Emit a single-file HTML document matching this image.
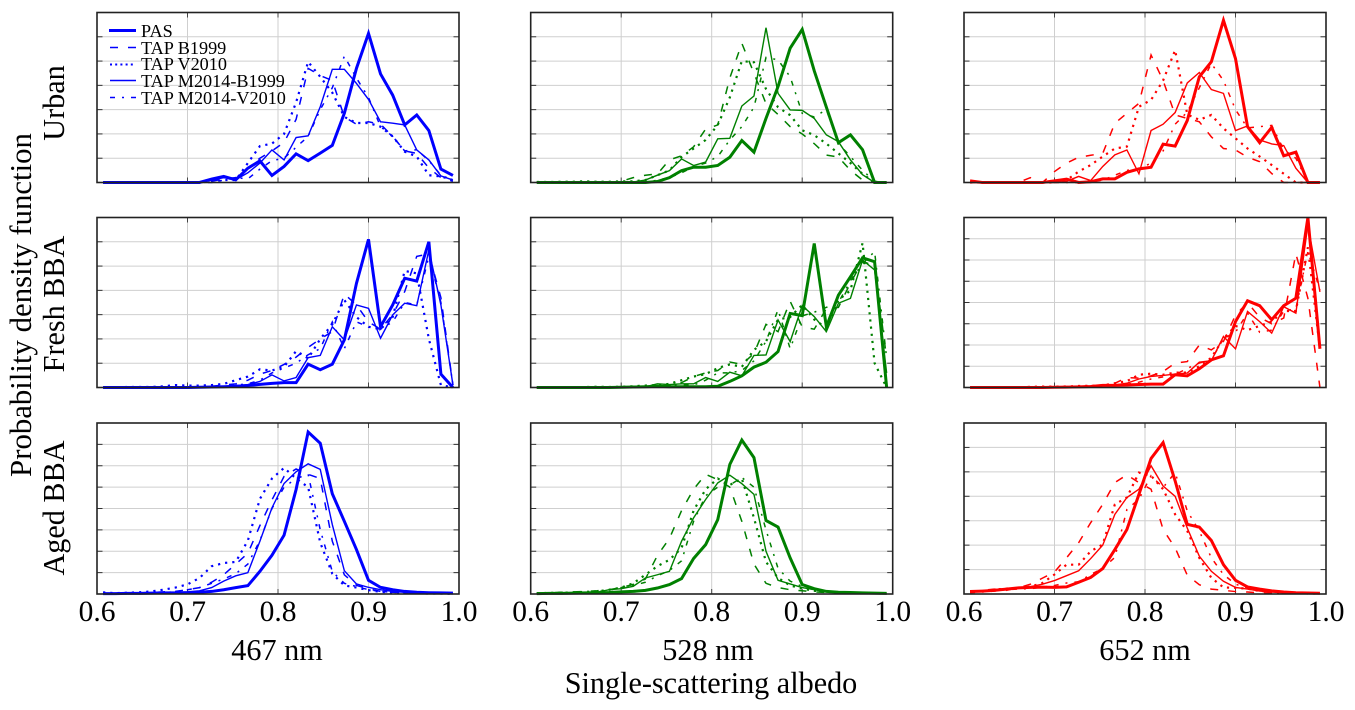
<!DOCTYPE html>
<html lang="en">
<head>
<meta charset="utf-8">
<title>Single-scattering albedo probability density functions</title>
<style>
html,body{margin:0;padding:0;background:#fff;width:1355px;height:710px;overflow:hidden}
svg{display:block}
text{font-family:"Liberation Serif",serif;fill:#000}
</style>
</head>
<body>
<svg id="chart" xmlns="http://www.w3.org/2000/svg" width="1355" height="710" viewBox="0 0 1355 710">
<rect x="0" y="0" width="1355" height="710" fill="#fff"/>
<g id="panels"></g>
<g font-size="18.2">
<g><line x1="109" x2="136" y1="30.5" y2="30.5" stroke="#0000ff" stroke-width="3"/><text x="141" y="37">PAS</text></g>
<g><line x1="110" x2="136" y1="47.5" y2="47.5" stroke="#0000ff" stroke-width="1.5" stroke-dasharray="8 10"/><text x="141" y="54">TAP B1999</text></g>
<g><line x1="110" x2="136" y1="64.5" y2="64.5" stroke="#0000ff" stroke-width="2" stroke-dasharray="2 3.2"/><text x="141" y="70">TAP V2010</text></g>
<g><line x1="110" x2="136" y1="80.5" y2="80.5" stroke="#0000ff" stroke-width="1.5"/><text x="141" y="87">TAP M2014-B1999</text></g>
<g><line x1="110" x2="136" y1="97.5" y2="97.5" stroke="#0000ff" stroke-width="1.5" stroke-dasharray="5 7 2 7"/><text x="141" y="104">TAP M2014-V2010</text></g>
</g>
<g font-size="30.2">
<text transform="translate(64,103) rotate(-90)" text-anchor="middle">Urban</text>
<text transform="translate(64,304) rotate(-90)" text-anchor="middle">Fresh BBA</text>
<text transform="translate(64,508) rotate(-90)" text-anchor="middle">Aged BBA</text>
<text transform="translate(31,305) rotate(-90)" text-anchor="middle" font-size="30.8">Probability density function</text>
<text x="277" y="660" text-anchor="middle">467 nm</text>
<text x="708" y="660" text-anchor="middle">528 nm</text>
<text x="1145" y="660" text-anchor="middle">652 nm</text>
<text x="711" y="693" text-anchor="middle">Single-scattering albedo</text>
</g>
</svg>
<script>
// Albedo bin centres shared by all series
const albedoBins = [0.6067,0.62,0.6333,0.6467,0.66,0.6733,0.6867,0.7,0.7133,0.7267,0.74,0.7533,0.7667,0.78,0.7933,0.8067,0.82,0.8333,0.8467,0.86,0.8733,0.8867,0.9,0.9133,0.9267,0.94,0.9533,0.9667,0.98,0.9933];
const xTickLabels = ["0.6","0.7","0.8","0.9","1.0"];
const xTickValues = [0.6,0.7,0.8,0.9,1.0];
const aerosolRows = ["urban","fresh-bba","aged-bba"];
const wavelengths = ["467-nm","528-nm","652-nm"];

// Urban, 467 nm
const urban467Pas = [0,0,0,0,0,0,0,0,0,.14,.25,.11,.59,.89,.29,.66,1.18,.9,1.21,1.53,2.85,4.7,6.14,4.47,3.6,2.37,2.78,2.14,.55,.29];
const urban467B1999 = [0,0,0,0,0,0,0,0,0,.05,.15,.2,.6,1,1.3,1.65,2.6,4.7,4.4,4.2,2.7,2.4,2.5,2.4,1.9,1.3,1.2,.6,.2,.05];
const urban467V2010 = [0,0,0,0,0,0,0,0,0,.05,.1,.1,.8,1.5,1.6,2,3.3,4.97,4.35,3.7,2.7,2.45,2.45,2.3,1.9,1.27,1.07,.3,.25,.1];
const urban467M2014B = [0,0,0,0,0,0,0,0,0,.1,.2,.12,.4,.8,1.34,.93,1.85,1.92,3.12,4.66,4.66,4.08,3.42,2.5,2.44,2.37,1.34,.93,.27,.1];
const urban467M2014V = [0,0,0,0,0,0,0,0,0,0,.1,.2,.15,.55,.9,1,1.45,1.9,3,3.9,5.2,4.3,3.5,2.3,1.9,1.3,1.35,.9,.3,.1];
// Urban, 528 nm
const urban528Pas = [0,0,0,0,0,0,0,0,0,0,.04,.2,.49,.63,.63,.7,1.04,1.73,1.25,2.64,3.95,5.53,6.3,4.6,3.1,1.64,1.96,1.35,0,0];
const urban528B1999 = [0,0,0,0,0,0,0,.05,.2,.3,.35,.93,1.1,1.47,2.2,2.37,4.3,5.73,4.5,3.25,2.8,2.3,2,1.6,1.13,1.05,.5,.1,0,0];
const urban528V2010 = [.02,.02,.03,.03,.05,.03,.03,.05,.05,.1,.3,.5,1.05,1.4,1.75,2.37,3.5,5,4.95,3.85,3.1,2.77,2.15,1.95,1.6,1.2,.8,.35,0,0];
const urban528M2014B = [0,0,0,0,0,0,0,0,.02,.1,.3,.49,.97,.7,.84,1.8,1.82,3.15,3.56,6.37,3.67,2.99,2.97,2.64,1.96,1.68,.93,.32,0,0];
const urban528M2014V = [0,0,0,0,0,0,0,0,0,0,.1,.2,.4,.65,.8,1.07,1.75,2.3,3.1,5.15,5.05,4.35,2.85,2.7,3,1.6,1.07,.5,.05,0];
// Urban, 652 nm
const urban652Pas = [.07,0,0,0,0,0,0,.07,.14,0,.03,.15,.15,.42,.56,.63,1.58,1.5,2.55,4.35,4.97,6.68,5.1,2.3,1.64,2.27,1.1,1.25,0,0];
const urban652B1999 = [0,0,0,0,0,.2,0,.45,.8,1.04,1.12,1.2,2.44,2.85,3.26,5.25,4.2,2.78,2.64,2.5,1.88,1.4,1.34,1.04,.86,.37,0,0,0,0];
const urban652V2010 = [0,0,0,0,0,0,0,0,.1,.45,.72,1.07,1.4,1.48,3.12,3.4,4.2,5.45,2.8,2.58,2.78,2.23,1.82,1.4,1.07,.72,.36,0,0,0];
const urban652M2014B = [0,0,0,0,0,0,0,0,.05,.25,.08,.66,1.14,1.34,.36,2.14,2.4,2.88,4.1,4.53,3.83,3.67,2.14,2.33,1.75,1.59,1.52,.59,0,0];
const urban652M2014V = [0,0,0,0,0,0,0,0,0,0,.03,.1,.3,.5,.55,.8,1.3,2.4,2.9,3.9,4.9,4.2,3,2.25,2.3,2.35,1.35,1,0,0];
// Fresh BBA, 467 nm
const fresh467Pas = [0,0,0,0,0,0,0,0,.01,.02,.03,.05,.08,.13,.17,.2,.2,.96,.73,.96,1.96,4.29,6.1,2.5,3.4,4.5,4.38,6,.55,0];
const fresh467B1999 = [0,0,0,0,0,0,0,0,.02,.05,.1,.15,.3,.55,.7,.95,1.25,1.65,2,2.3,3.85,3.4,2.7,2.4,3,3.95,5.4,5.5,3.7,.1];
const fresh467V2010 = [0,0,.02,.02,.02,.05,.1,.08,.08,.1,.15,.3,.45,.75,.7,.85,1.5,1.2,2,2.6,3.6,2.9,2.5,2.4,2.9,4.8,4.7,2,.1,0];
const fresh467M2014B = [0,0,0,0,0,0,0,0,.02,.03,.05,.08,.12,.25,.52,.27,.41,1.23,1.32,2.5,1.96,3.4,3.26,2.03,2.99,3.47,3.37,5.66,3.4,.1];
const fresh467M2014V = [0,0,0,0,0,0,0,0,0,.02,.05,.1,.15,.3,.6,.8,1,1.35,1.6,2.7,1.6,2.7,2.5,2.4,2.7,3.5,3.4,5.4,3.5,.1];
// Fresh BBA, 528 nm
const fresh528Pas = [0,0,0,0,0,0,0,.01,.02,.03,.05,.03,.03,.03,.03,.05,.25,.48,.84,1.04,1.48,3.05,2.96,5.93,2.5,3.8,4.56,5.34,5.18,0];
const fresh528B1999 = [0,0,0,0,0,0,0,0,0,.02,.05,.1,.2,.45,.6,.7,1.05,.95,1.4,2.6,2.3,3.55,2.5,2.4,3.25,3.3,4.3,5.2,5,1.2];
const fresh528V2010 = [0,0,0,0,.02,.03,.02,.03,.05,.08,.1,.15,.3,.45,.55,.8,.95,.85,1.55,1.9,2.8,2.9,3.4,2.8,2.45,3.6,4,5.95,1,0];
const fresh528M2014B = [0,0,0,0,0,0,0,0,.01,.03,.15,.12,.15,.15,.41,.25,.63,.48,1.32,1.34,2.78,1.89,3.37,2.92,2.3,3.47,3.67,5.25,4.84,.6];
const fresh528M2014V = [0,0,0,0,0,0,0,0,0,.02,.05,.1,.1,.1,.3,.6,.6,.7,1.1,1.9,3.2,1.6,2.95,3.1,3.3,3.5,4.4,5.1,5.6,1.2];
// Fresh BBA, 652 nm
const fresh652Pas = [0,0,0,0,0,0,0,.01,.02,.03,.05,.1,.1,.12,.14,.16,.16,.6,.55,.88,1.3,1.49,3.1,4.08,3.85,3.19,3.85,4.2,8,1.82];
const fresh652B1999 = [0,0,0,0,0,.02,.03,.03,.04,.05,.08,.1,.2,.47,.44,.55,.75,1.15,1.22,2,1.77,2.17,3.4,4,3.3,3,3.27,6.3,4.2,0];
const fresh652V2010 = [0,0,0,0,0,.03,.04,.04,.05,.07,.08,.1,.2,.3,.6,.65,.6,.7,.7,1,1.4,2.3,2.9,2.7,2.9,3.1,3.6,3.6,6.6,1.8];
const fresh652M2014B = [0,0,0,0,0,0,0,0,.01,.03,.05,.1,.12,.2,.4,.52,.57,.63,.68,1.19,1.26,2.4,1.82,3.58,3.1,2.56,3.8,3.5,7.66,4.5];
const fresh652M2014V = [0,0,0,0,0,0,0,0,.01,.02,.05,.07,.1,.15,.25,.4,.5,.6,.9,1.15,1.3,2.3,2.6,3.5,2.6,2.7,3.6,3.7,6.4,4.6];
// Aged BBA, 467 nm
const aged467Pas = [.02,.02,.03,.03,.04,.05,.05,.06,.08,.12,.2,.3,.39,1.06,1.81,2.75,4.89,7.58,7.05,4.69,3.4,2.08,.64,.31,.2,.12,.08,.06,.05,.04];
const aged467B1999 = [.02,.03,.03,.05,.07,.1,.12,.2,.3,.55,.9,1.4,1.9,3.2,4.4,5.5,5.85,5.6,5.4,2.47,.9,.4,.25,.12,.08,.06,.04,.03,.02,.01];
const aged467V2010 = [.08,.04,.06,.08,.12,.2,.3,.45,.75,1.3,1.45,1.5,2.5,4.45,5.4,5.9,5.4,5,2.4,.95,.4,.3,.18,.1,.07,.05,.03,.02,.02,.01];
const aged467M2014B = [.02,.03,.03,.04,.05,.06,.08,.1,.15,.3,.6,.85,1,2.47,4.03,5.17,5.72,6.09,5.83,3.25,1.09,.47,.31,.2,.12,.08,.06,.05,.04,.03];
const aged467M2014V = [.02,.03,.03,.04,.05,.07,.1,.2,.3,.5,.7,.95,1.4,2.5,4,5,5.4,5.6,3,1.05,.5,.35,.2,.12,.08,.05,.03,.02,.02,.01];
// Aged BBA, 528 nm
const aged528Pas = [.02,.03,.03,.04,.05,.06,.07,.1,.12,.17,.28,.44,.72,1.66,2.31,3.48,6.06,7.2,6.38,3.44,3.13,1.69,.44,.25,.12,.08,.07,.05,.04,.03];
const aged528B1999 = [.05,.05,.08,.1,.12,.15,.2,.3,.45,.7,1.8,2.6,3.9,4.9,5.6,5.35,5,3.4,1.4,.5,.3,.2,.15,.1,.07,.05,.03,.02,.02,.01];
const aged528V2010 = [.03,.05,.06,.07,.1,.12,.2,.3,.5,.9,1.3,1.6,2.15,3.9,4.9,5.4,5.1,5.4,3.56,1.5,.75,.4,.25,.15,.1,.07,.05,.04,.03,.02];
const aged528M2014B = [.02,.03,.04,.05,.06,.08,.2,.25,.36,.75,.9,1.06,2.47,3.56,4.42,5.2,5.56,5.16,4.66,2,.64,.47,.3,.2,.12,.08,.05,.04,.03,.02];
const aged528M2014V = [.02,.03,.04,.05,.06,.1,.18,.3,.4,.55,.85,1.1,1.55,3.4,4.6,5,5.1,5.45,5,3,1.2,.6,.35,.2,.12,.08,.06,.04,.03,.02];
// Aged BBA, 652 nm
const aged652Pas = [.1,.12,.15,.2,.25,.27,.28,.27,.29,.48,.68,1.04,1.82,2.64,4.08,5.55,6.2,4.63,2.85,2.74,2.19,1.2,.56,.29,.2,.13,.08,.05,.04,.03];
const aged652B1999 = [.1,.15,.2,.15,.25,.4,.65,.9,1.48,2.1,2.92,3.67,4.56,4.88,4.56,4.29,2.64,1.89,.77,.38,.2,.15,.1,.08,.05,.04,.03,.02,.01,.01];
const aged652V2010 = [.12,.1,.18,.22,.25,.3,.45,.8,1.2,1.2,1.75,2.03,3.67,3.95,4.97,4.84,4.29,3.26,2.58,1.48,.66,.27,.25,.22,.12,.08,.05,.04,.02,.02];
const aged652M2014B = [.08,.12,.18,.22,.25,.3,.4,.55,.75,.95,1.45,2,3.26,3.95,4.29,5.25,4.42,4,2.7,1.55,.93,.52,.27,.2,.12,.08,.05,.04,.03,.02];
const aged652M2014V = [.05,.08,.12,.18,.2,.22,.28,.35,.45,.5,.8,1.05,1.5,3.46,3.88,4.84,4.36,4.97,3.4,2.58,1.48,.8,.4,.25,.15,.1,.07,.05,.03,.02];

// Y-axis maximum per panel [row][column]
const yMaxByPanel = [[7,7,7],[7,7,8],[8,8,7]];
const seriesNames = ["pas","tap-b1999","tap-v2010","tap-m2014-b1999","tap-m2014-v2010"];
const panelSeries = [
  [[urban467Pas,urban467B1999,urban467V2010,urban467M2014B,urban467M2014V],
   [urban528Pas,urban528B1999,urban528V2010,urban528M2014B,urban528M2014V],
   [urban652Pas,urban652B1999,urban652V2010,urban652M2014B,urban652M2014V]],
  [[fresh467Pas,fresh467B1999,fresh467V2010,fresh467M2014B,fresh467M2014V],
   [fresh528Pas,fresh528B1999,fresh528V2010,fresh528M2014B,fresh528M2014V],
   [fresh652Pas,fresh652B1999,fresh652V2010,fresh652M2014B,fresh652M2014V]],
  [[aged467Pas,aged467B1999,aged467V2010,aged467M2014B,aged467M2014V],
   [aged528Pas,aged528B1999,aged528V2010,aged528M2014B,aged528M2014V],
   [aged652Pas,aged652B1999,aged652V2010,aged652M2014B,aged652M2014V]]
];

const NS = "http://www.w3.org/2000/svg";
const colLefts = [97, 530.7, 964];
const colWidth = 362;
const rowTops = [12.5, 217.5, 423];
const rowBottoms = [182.5, 387.5, 594];
const colColors = ["#0000ff","#008000","#ff0000"];
const styleFor = [
  {w:3,d:""},
  {w:1.5,d:"8 10"},
  {w:2.2,d:"2.2 5"},
  {w:1.4,d:""},
  {w:1.5,d:"5 7 2 7"}
];
const drawOrder = [1,2,4,3,0];
function mk(tag, attrs, parent){
  const el = document.createElementNS(NS, tag);
  for (const k in attrs) el.setAttribute(k, attrs[k]);
  parent.appendChild(el);
  return el;
}
const root = document.getElementById("panels");
aerosolRows.forEach(function(rowName, r){
  wavelengths.forEach(function(colName, c){
    const L = colLefts[c], T = rowTops[r], B = rowBottoms[r], R = L + colWidth;
    const yMax = yMaxByPanel[r][c];
    const xScale = function(v){ return L + (v - 0.6) / 0.4 * colWidth; };
    const yScale = function(v){ return B - v / yMax * (B - T); };
    const g = mk("g", {}, root);
    
    
    for (let t = 1; t < yMax; t++) {
      const y = yScale(t);
      const gl = mk("line", {x1:L,x2:R,y1:y,y2:y,stroke:"#cfcfcf","stroke-width":1}, g);
      
      
      const lt = mk("line", {x1:L,x2:L+5.5,y1:y,y2:y,stroke:"#333","stroke-width":1}, g);
      
      
      const rt = mk("line", {x1:R-5.5,x2:R,y1:y,y2:y,stroke:"#333","stroke-width":1}, g);
      
      
    }
    xTickValues.forEach(function(v, i){
      const x = xScale(v);
      if (i > 0 && i < xTickValues.length - 1) {
        const gl = mk("line", {x1:x,x2:x,y1:T,y2:B,stroke:"#cfcfcf","stroke-width":1}, g);
        
        
        const tt = mk("line", {x1:x,x2:x,y1:T,y2:T+5,stroke:"#444","stroke-width":1}, g);
        
        
        const bt = mk("line", {x1:x,x2:x,y1:B-5,y2:B,stroke:"#444","stroke-width":1}, g);
        
        
      }
      if (r === 2) {
        const lbl = mk("text", {x:x,y:621,"text-anchor":"middle","font-size":29.5}, g);
        
        
        lbl.textContent = xTickLabels[i];
      }
    });
    drawOrder.forEach(function(s){
      const values = panelSeries[r][c][s];
      const d = values.map(function(v, i){
        return (i ? "L" : "M") + xScale(albedoBins[i]).toFixed(2) + " " + yScale(v).toFixed(2);
      }).join(" ");
      const p = mk("path", {d:d,fill:"none",stroke:colColors[c],"stroke-width":styleFor[s].w,"stroke-linejoin":"miter"}, g);
      if (styleFor[s].d) p.setAttribute("stroke-dasharray", styleFor[s].d);
      
      
    });
    const frame = mk("rect", {x:L,y:T,width:colWidth,height:B-T,fill:"none",stroke:"#222","stroke-width":1.6}, g);
    
    
  });
});
</script>
</body>
</html>
